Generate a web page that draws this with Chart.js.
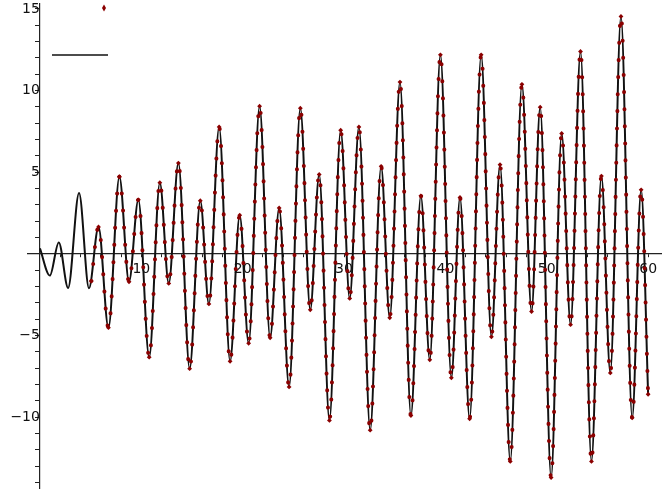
<!DOCTYPE html>
<html>
<head>
<meta charset="utf-8">
<script src="https://cdn.jsdelivr.net/npm/chart.js@4/dist/chart.umd.min.js"></script>
<style>
  html, body { margin: 0; padding: 0; background: #fff; }
</style>
</head>
<body>
<canvas id="chart" width="665" height="492"></canvas>
<script>
// turning points of the curve
const extremaX = [0, 0.98, 1.86, 2.78, 3.86, 4.84, 5.78, 6.76, 7.84, 8.79, 9.71,
  10.78, 11.83, 12.71, 13.66, 14.77, 15.82, 16.67, 17.68, 18.76, 19.71,
  20.59, 21.67, 22.71, 23.6, 24.58, 25.69, 26.67, 27.55, 28.56, 29.67,
  30.56, 31.47, 32.58, 33.66, 34.51, 35.52, 36.6, 37.58, 38.46, 39.51,
  40.59, 41.44, 42.39, 43.53, 44.54, 45.39, 46.4, 47.55, 48.5, 49.35,
  50.43, 51.47, 52.35, 53.33, 54.41, 55.39, 56.27, 57.32, 58.43, 59.31, 60.0];
const extremaY = [0.34, -1.33, 0.70, -2.09, 3.73, -2.11, 1.65, -4.52, 4.72, -1.71, 3.31,
  -6.33, 4.36, -1.81, 5.56, -7.03, 3.25, -3.07, 7.77, -6.58, 2.37,
  -5.48, 9.04, -5.14, 2.81, -8.15, 8.92, -3.43, 4.86, -10.2, 7.57,
  -2.73, 7.77, -10.8, 5.36, -3.92, 10.52, -9.9, 3.55, -6.49, 12.19,
  -7.59, 3.45, -10.1, 12.19, -5.08, 5.46, -12.71, 10.38, -3.53, 8.98,
  -13.7, 7.37, -4.34, 12.39, -12.71, 4.76, -7.29, 14.54, -10.04, 3.92, -8.6];

// the sampled points begin part way up the rise after x ~ 4.8
const sampleStartX = 5.07;
const sampleStartY = -1.67;

const xTicks = [2, 4, 6, 8, 10, 12, 14, 16, 18, 20, 22, 24, 26, 28, 30,
  32, 34, 36, 38, 40, 42, 44, 46, 48, 50, 52, 54, 56, 58, 60];
const xLabels = [10, 20, 30, 40, 50, 60];
const yTicks = [-14, -13, -12, -11, -10, -9, -8, -7, -6, -5, -4, -3, -2, -1,
  1, 2, 3, 4, 5, 6, 7, 8, 9, 10, 11, 12, 13, 14, 15];
const yLabels = [-10, -5, 5, 10, 15];

const X_MIN = -1.176, X_MAX = 61.27;
const Y_MIN = -14.34, Y_MAX = 15.3;

const DOT_RED = '#8b0000';
const AXIS = '#222';
const FONT = { family: 'DejaVu Sans', size: 14 };

const fmt = v => (v < 0 ? '\u2212' + Math.abs(v) : String(v));
const noPad = s => { s.paddingTop = 0; s.paddingBottom = 0; s.paddingLeft = 0; s.paddingRight = 0; };

const curve = extremaX.map((x, i) => ({ x, y: extremaY[i] }));
const samples = [{ x: sampleStartX, y: sampleStartY }]
  .concat(curve.filter(p => p.x > sampleStartX));

// stray legend marks at top-left, as in the original figure
const legendMarks = {
  id: 'legendMarks',
  afterDraw(chart) {
    const { ctx } = chart;
    ctx.save();
    ctx.strokeStyle = '#111';
    ctx.lineWidth = 1.6;
    ctx.beginPath();
    ctx.moveTo(52, 55);
    ctx.lineTo(108, 55);
    ctx.stroke();
    ctx.fillStyle = DOT_RED;
    ctx.beginPath();
    ctx.moveTo(104, 4.5);
    ctx.lineTo(106, 8);
    ctx.lineTo(104, 11.5);
    ctx.lineTo(102, 8);
    ctx.closePath();
    ctx.fill();
    ctx.restore();
  },
};

new Chart(document.getElementById('chart').getContext('2d'), {
  type: 'line',
  data: {
    datasets: [
      {
        data: samples,
        order: 0,
        borderColor: DOT_RED,
        borderWidth: 4,
        borderDash: [0.1, 17],
        borderCapStyle: 'round',
        cubicInterpolationMode: 'monotone',
        pointStyle: 'rectRot',
        pointRadius: 2.4,
        pointBackgroundColor: DOT_RED,
        pointBorderWidth: 0,
        fill: false,
      },
      {
        data: curve,
        order: 1,
        borderColor: '#111',
        borderWidth: 2,
        cubicInterpolationMode: 'monotone',
        pointRadius: 0,
        fill: false,
      },
    ],
  },
  options: {
    responsive: false,
    animation: false,
    events: [],
    layout: { padding: { left: 28, right: 0, top: 0, bottom: 0 } },
    plugins: { legend: { display: false }, tooltip: { enabled: false } },
    scales: {
      x: {
        type: 'linear',
        min: X_MIN,
        max: X_MAX,
        position: { y: 0 },
        afterBuildTicks: s => { s.ticks = xTicks.map(v => ({ value: v })); },
        afterFit: noPad,
        grid: { drawOnChartArea: false, tickLength: 3, color: AXIS },
        border: { color: AXIS, width: 1.2 },
        ticks: {
          autoSkip: false,
          maxRotation: 0,
          padding: 4,
          color: '#111',
          font: FONT,
          callback: v => (xLabels.includes(v) ? fmt(v) : ''),
        },
      },
      y: {
        type: 'linear',
        min: Y_MIN,
        max: Y_MAX,
        position: { x: 0 },
        afterBuildTicks: s => { s.ticks = yTicks.map(v => ({ value: v })); },
        afterFit: noPad,
        grid: { drawOnChartArea: false, tickLength: 4, color: AXIS },
        border: { color: AXIS, width: 1.2 },
        ticks: {
          autoSkip: false,
          padding: 4,
          color: '#111',
          font: FONT,
          callback: v => (yLabels.includes(v) ? fmt(v) : ''),
        },
      },
    },
  },
  plugins: [legendMarks],
});
</script>
</body>
</html>
